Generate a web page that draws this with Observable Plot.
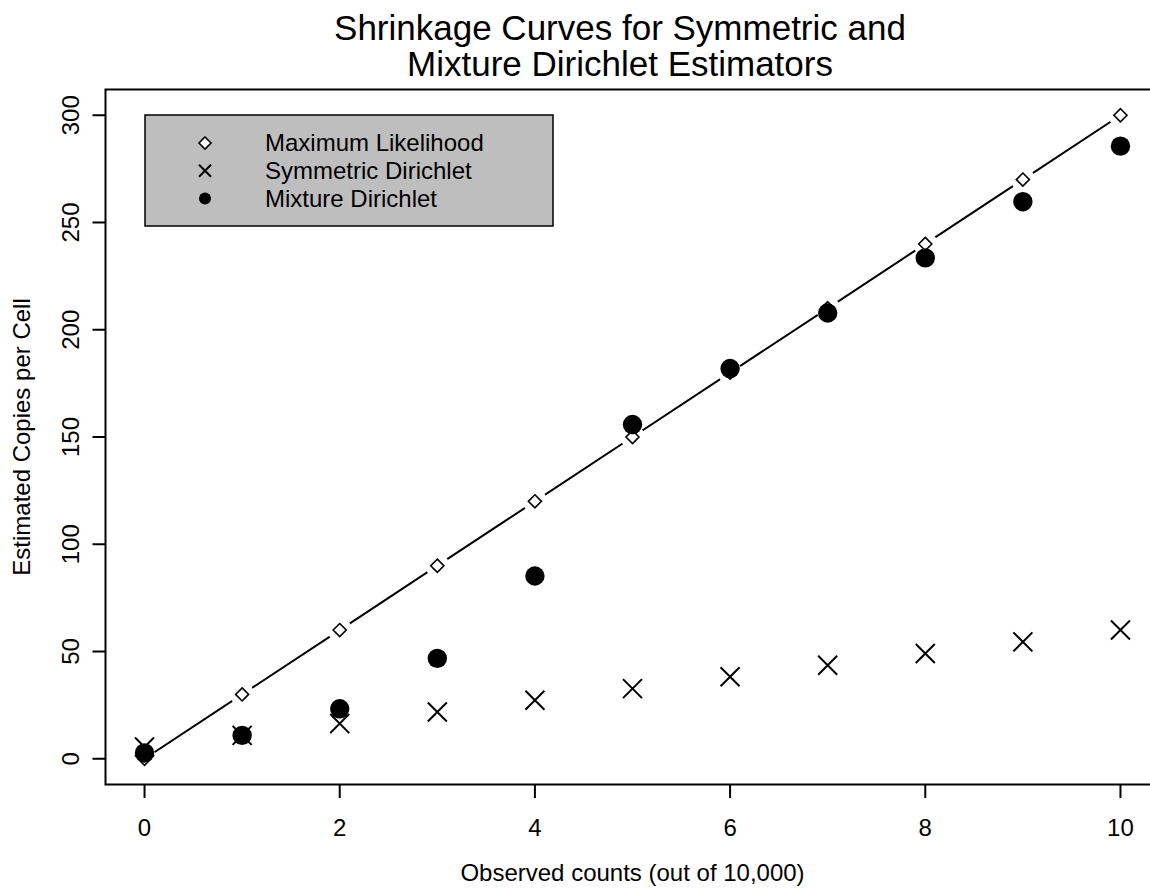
<!DOCTYPE html>
<html><head><meta charset="utf-8">
<script src="https://cdn.jsdelivr.net/npm/d3@7"></script>
<script src="https://cdn.jsdelivr.net/npm/@observablehq/plot@0.6"></script>
<style>
body{margin:0;background:#fff;overflow:hidden;font-family:"Liberation Sans",Arial,Helvetica,sans-serif;}
#wrap{position:relative;width:1150px;height:888px;overflow:hidden;background:#fff;}
#title{position:relative;width:1240px;height:86px;text-align:center;font-size:35px;line-height:36px;padding-top:10px;box-sizing:border-box;color:#000;}
#title div{height:36px;}
#chart svg{max-width:none !important;display:block;}
#legend{position:absolute;left:0;top:0;pointer-events:none;}
</style>
</head><body>
<div id="wrap">
  <div id="title"><div>Shrinkage Curves for Symmetric and</div><div>Mixture Dirichlet Estimators</div></div>
  <div id="chart"></div>
  <svg id="legend" width="1150" height="888"></svg>
</div>
<script>
// ---- data ----
const counts = [0, 1, 2, 3, 4, 5, 6, 7, 8, 9, 10];
const maxLikelihood = [0, 30, 60, 90, 120, 150, 180, 210, 240, 270, 300];
const symmetricDirichlet = [5.5, 10.9, 16.4, 21.8, 27.3, 32.7, 38.2, 43.6, 49.1, 54.5, 60];
const mixtureDirichlet = [2.7, 10.9, 23.3, 46.8, 85.2, 155.8, 181.9, 207.8, 233.5, 259.7, 285.6];
const seriesNames = ["Maximum Likelihood", "Symmetric Dirichlet", "Mixture Dirichlet"];
const xTicks = [0, 2, 4, 6, 8, 10];
const yTicks = [0, 50, 100, 150, 200, 250, 300];
const xLabel = "Observed counts (out of 10,000)";
const yLabel = "Estimated Copies per Cell";

const ml = counts.map((c, i) => ({x: c, y: maxLikelihood[i]}));
const sym = counts.map((c, i) => ({x: c, y: symmetricDirichlet[i]}));
const mix = counts.map((c, i) => ({x: c, y: mixtureDirichlet[i]}));

const FONT = "'Liberation Sans', Arial, Helvetica, sans-serif";

const plot = Plot.plot({
  width: 1160,
  height: 802,
  marginLeft: 105,
  marginRight: 1,
  marginTop: 3,
  marginBottom: 104,
  style: {fontFamily: FONT, fontSize: "24px", color: "#000", background: "transparent", maxWidth: "none"},
  x: {domain: [-0.4, 10.4], label: null},
  y: {domain: [-12, 312], label: null},
  marks: [
    Plot.frame({stroke: "#000", strokeWidth: 2}),
    Plot.axisX({ticks: xTicks, tickSize: 14, tickPadding: 20, strokeWidth: 2, tickFormat: d => String(d), fontSize: 24}),
    Plot.axisY({ticks: yTicks, tickSize: 12.5, strokeWidth: 2, tickFormat: () => ""}),
    Plot.text(yTicks, {y: d => d, text: d => String(d), frameAnchor: "left", dx: -34, rotate: -90, fontSize: 24, textAnchor: "middle", lineAnchor: "middle"}),
    Plot.text([xLabel], {text: d => d, frameAnchor: "bottom", dy: 96, fontSize: 24, textAnchor: "middle"}),
    Plot.text([yLabel], {text: d => d, frameAnchor: "left", dx: -83, rotate: -90, fontSize: 24, textAnchor: "middle", lineAnchor: "middle"}),
    Plot.line(ml, {x: "x", y: "y", stroke: "#000", strokeWidth: 2}),
    Plot.dot(ml, {x: "x", y: "y", r: 12, fill: "#fff", stroke: "none"}),
    Plot.dot(ml, {x: "x", y: "y", symbol: "diamond2", r: 5.9, fill: "#fff", stroke: "#000", strokeWidth: 1.6}),
    Plot.dot(sym, {x: "x", y: "y", symbol: "times", r: 8.7, stroke: "#000", strokeWidth: 2}),
    Plot.dot(mix, {x: "x", y: "y", r: 9.7, fill: "#000", stroke: "none"})
  ]
});
document.getElementById("chart").appendChild(plot);

// ---- legend ----
const lg = d3.select("#legend");
lg.append("rect").attr("x", 145).attr("y", 115).attr("width", 408).attr("height", 111)
  .attr("fill", "#bebebe").attr("stroke", "#000").attr("stroke-width", 1.5);
const legendSymbols = [
  {sym: d3.symbolDiamond2, size: 92, fill: "#fff", stroke: "#000", sw: 1.6},
  {sym: d3.symbolTimes, size: 96, fill: "none", stroke: "#000", sw: 2},
  {sym: d3.symbolCircle, size: Math.PI * 36, fill: "#000", stroke: "none", sw: 0}
];
seriesNames.forEach((name, i) => {
  const cy = 143 + i * 27.7;
  const s = legendSymbols[i];
  lg.append("path").attr("d", d3.symbol(s.sym, s.size)())
    .attr("transform", `translate(205,${cy})`)
    .attr("fill", s.fill).attr("stroke", s.stroke).attr("stroke-width", s.sw);
  lg.append("text").attr("x", 265).attr("y", cy).attr("dy", "0.35em")
    .attr("font-family", FONT).attr("font-size", 24).attr("fill", "#000").text(name);
});
</script>
</body></html>
